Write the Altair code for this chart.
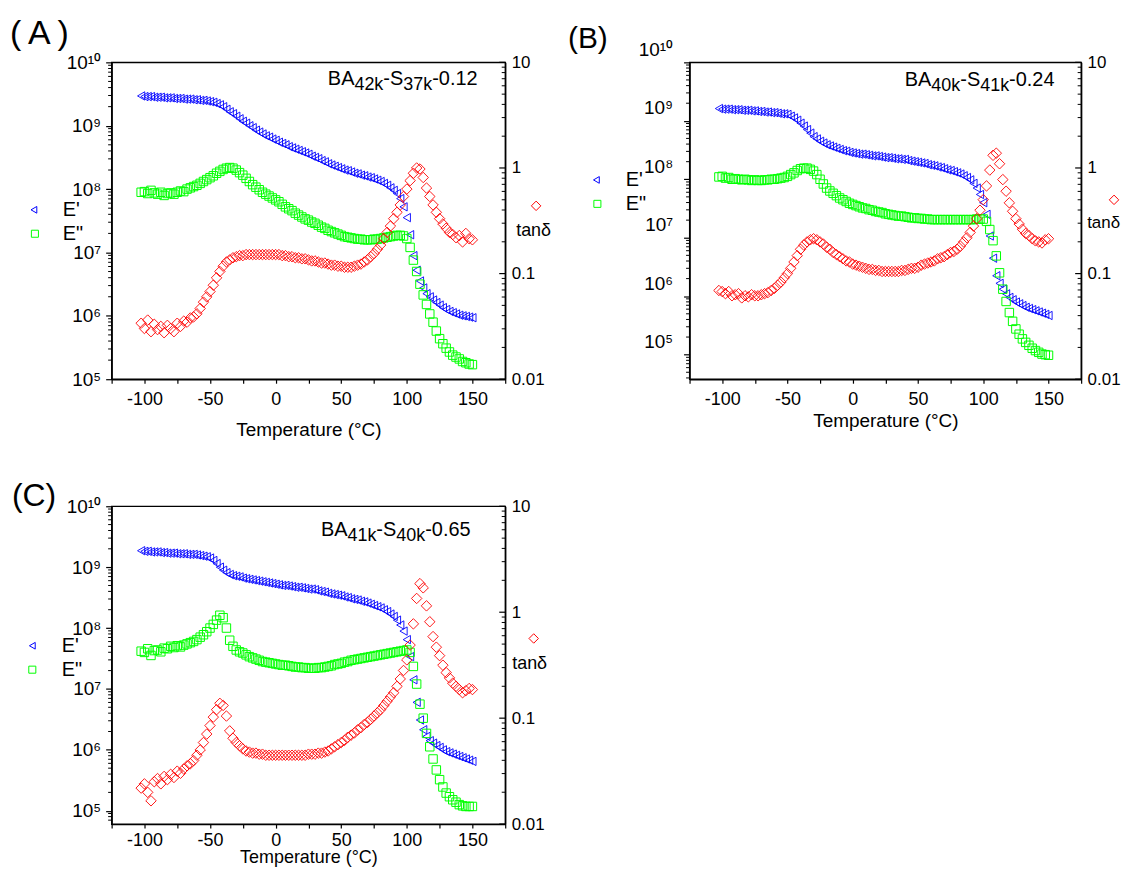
import altair as alt
import pandas as pd

FONT = "Liberation Sans"
BLUE = "#0000ff"
GREEN = "#00ff00"
RED = "#ff0000"

# sampling temperatures (°C), every 2.5 °C from -102.5 to 150
TEMP = [i * 2.5 for i in range(-41, 61)]

# ---------------- Panel A : BA42k-S37k-0.12 (log10 values)
A_logEp = [9.47, 9.46, 9.46, 9.46, 9.45, 9.45, 9.45, 9.44, 9.44, 9.44,
           9.43, 9.43, 9.43, 9.42, 9.42, 9.42, 9.41, 9.41, 9.40, 9.40,
           9.39, 9.38, 9.37, 9.35, 9.33, 9.30, 9.26, 9.22, 9.19, 9.15,
           9.11, 9.07, 9.04, 9.00, 8.97, 8.93, 8.90, 8.87, 8.84, 8.82,
           8.79, 8.77, 8.74, 8.72, 8.70, 8.67, 8.65, 8.63, 8.61, 8.59,
           8.57, 8.55, 8.52, 8.50, 8.48, 8.45, 8.43, 8.40, 8.38, 8.36,
           8.34, 8.32, 8.30, 8.29, 8.27, 8.25, 8.24, 8.22, 8.21, 8.19,
           8.18, 8.16, 8.14, 8.12, 8.09, 8.06, 8.02, 7.98, 7.93, 7.85,
           7.72, 7.55, 7.28, 6.95, 6.72, 6.55, 6.44, 6.35, 6.30, 6.25,
           6.21, 6.17, 6.13, 6.10, 6.07, 6.05, 6.03, 6.01, 6.00, 5.99,
           5.98, 5.97]
A_logEpp = [7.95, 7.96, 7.93, 7.98, 7.94, 7.92, 7.95, 7.90, 7.93, 7.94,
            7.92, 7.95, 7.97, 7.96, 8.00, 8.02, 8.04, 8.06, 8.09, 8.12,
            8.15, 8.18, 8.21, 8.25, 8.28, 8.31, 8.33, 8.34, 8.33, 8.30,
            8.26, 8.22, 8.17, 8.12, 8.07, 8.03, 7.99, 7.95, 7.92, 7.89,
            7.86, 7.83, 7.80, 7.76, 7.72, 7.69, 7.66, 7.62, 7.59, 7.56,
            7.53, 7.51, 7.48, 7.46, 7.43, 7.40, 7.38, 7.35, 7.33, 7.31,
            7.29, 7.27, 7.25, 7.24, 7.23, 7.22, 7.21, 7.21, 7.20, 7.20,
            7.20, 7.21, 7.21, 7.22, 7.23, 7.24, 7.25, 7.26, 7.27, 7.27,
            7.26, 7.22, 7.08, 6.88, 6.70, 6.50, 6.33, 6.18, 6.03, 5.90,
            5.76, 5.64, 5.56, 5.49, 5.43, 5.38, 5.35, 5.32, 5.28, 5.26,
            5.24, 5.23]
A_logTan = [-1.47, -1.52, -1.44, -1.55, -1.48, -1.53, -1.50, -1.56, -1.49, -1.52,
            -1.55, -1.47, -1.50, -1.45, -1.46, -1.42, -1.41, -1.38, -1.33, -1.27,
            -1.22, -1.17, -1.11, -1.04, -0.98, -0.93, -0.89, -0.87, -0.85, -0.84,
            -0.83, -0.83, -0.82, -0.82, -0.82, -0.82, -0.82, -0.82, -0.82, -0.82,
            -0.82, -0.82, -0.82, -0.83, -0.83, -0.84, -0.84, -0.85, -0.85, -0.86,
            -0.86, -0.87, -0.88, -0.88, -0.89, -0.90, -0.90, -0.91, -0.92, -0.92,
            -0.93, -0.93, -0.94, -0.94, -0.94, -0.93, -0.92, -0.91, -0.89, -0.87,
            -0.84, -0.81, -0.77, -0.73, -0.67, -0.61, -0.55, -0.48, -0.42, -0.35,
            -0.27, -0.20, -0.12, -0.05, 0.00, -0.01, -0.09, -0.19, -0.27, -0.35,
            -0.42, -0.48, -0.53, -0.57, -0.61, -0.63, -0.66, -0.64, -0.70, -0.62,
            -0.67, -0.68]

# ---------------- Panel B : BA40k-S41k-0.24
B_logEp = [9.21, 9.20, 9.20, 9.20, 9.19, 9.19, 9.19, 9.18, 9.18, 9.18,
           9.17, 9.17, 9.16, 9.16, 9.15, 9.15, 9.14, 9.14, 9.13, 9.12,
           9.12, 9.11, 9.08, 9.05, 9.01, 8.96, 8.91, 8.85, 8.79, 8.73,
           8.69, 8.65, 8.62, 8.59, 8.57, 8.55, 8.53, 8.51, 8.49, 8.48,
           8.46, 8.45, 8.44, 8.43, 8.43, 8.42, 8.41, 8.40, 8.40, 8.39,
           8.38, 8.37, 8.37, 8.36, 8.35, 8.35, 8.34, 8.34, 8.32, 8.31,
           8.30, 8.29, 8.28, 8.27, 8.25, 8.24, 8.23, 8.21, 8.20, 8.18,
           8.16, 8.15, 8.13, 8.11, 8.09, 8.06, 8.03, 7.99, 7.93, 7.85,
           7.74, 7.60, 7.40, 7.03, 6.65, 6.35, 6.22, 6.12, 6.04, 5.98,
           5.94, 5.90, 5.87, 5.84, 5.81, 5.79, 5.77, 5.75, 5.73, 5.71,
           5.69, 5.67]
B_logEpp = [8.04, 8.05, 8.02, 8.03, 8.00, 8.01, 8.00, 7.99, 8.00, 7.99,
            7.98, 7.99, 7.98, 7.98, 7.99, 7.99, 8.00, 8.00, 8.01, 8.02,
            8.03, 8.05, 8.08, 8.11, 8.15, 8.18, 8.19, 8.19, 8.17, 8.14,
            8.08, 8.00, 7.92, 7.85, 7.80, 7.76, 7.72, 7.68, 7.65, 7.62,
            7.59, 7.57, 7.55, 7.53, 7.51, 7.50, 7.48, 7.47, 7.45, 7.44,
            7.43, 7.41, 7.40, 7.39, 7.38, 7.37, 7.37, 7.36, 7.35, 7.34,
            7.34, 7.33, 7.33, 7.32, 7.32, 7.31, 7.31, 7.31, 7.31, 7.31,
            7.31, 7.31, 7.31, 7.31, 7.31, 7.31, 7.31, 7.31, 7.31, 7.32,
            7.32, 7.32, 7.28, 7.14, 6.95, 6.69, 6.40, 6.12, 5.91, 5.72,
            5.57, 5.44, 5.35, 5.27, 5.21, 5.16, 5.11, 5.07, 5.04, 5.01,
            5.00, 4.99]
B_logTan = [-1.16, -1.17, -1.19, -1.17, -1.21, -1.20, -1.19, -1.23, -1.21, -1.22,
            -1.20, -1.21, -1.21, -1.20, -1.19, -1.18, -1.16, -1.14, -1.11, -1.08,
            -1.04, -1.00, -0.95, -0.89, -0.83, -0.77, -0.73, -0.70, -0.68, -0.67,
            -0.68, -0.70, -0.72, -0.75, -0.77, -0.80, -0.82, -0.84, -0.86, -0.88,
            -0.89, -0.91, -0.92, -0.93, -0.94, -0.95, -0.96, -0.96, -0.97, -0.97,
            -0.98, -0.98, -0.98, -0.98, -0.98, -0.98, -0.97, -0.97, -0.96, -0.95,
            -0.95, -0.94, -0.92, -0.91, -0.90, -0.89, -0.88, -0.86, -0.85, -0.84,
            -0.82, -0.80, -0.79, -0.77, -0.74, -0.70, -0.66, -0.61, -0.55, -0.48,
            -0.40, -0.30, -0.17, -0.02, 0.12, 0.14, 0.04, -0.11, -0.22, -0.33,
            -0.41, -0.48, -0.53, -0.58, -0.62, -0.64, -0.67, -0.69, -0.70, -0.71,
            -0.68, -0.67]

# ---------------- Panel C : BA41k-S40k-0.65
C_logEp = [9.27, 9.26, 9.26, 9.25, 9.25, 9.25, 9.24, 9.24, 9.23, 9.23,
           9.23, 9.22, 9.22, 9.22, 9.21, 9.21, 9.21, 9.20, 9.19, 9.18,
           9.17, 9.15, 9.11, 9.06, 9.00, 8.95, 8.91, 8.88, 8.86, 8.85,
           8.84, 8.82, 8.81, 8.80, 8.79, 8.78, 8.77, 8.76, 8.75, 8.74,
           8.73, 8.72, 8.71, 8.70, 8.70, 8.69, 8.68, 8.67, 8.67, 8.66,
           8.65, 8.64, 8.64, 8.63, 8.61, 8.60, 8.59, 8.57, 8.56, 8.55,
           8.54, 8.53, 8.51, 8.50, 8.48, 8.47, 8.46, 8.44, 8.43, 8.41,
           8.39, 8.37, 8.35, 8.33, 8.30, 8.27, 8.23, 8.19, 8.13, 8.05,
           7.95, 7.81, 7.53, 7.15, 6.78, 6.49, 6.33, 6.22, 6.15, 6.11,
           6.07, 6.04, 6.00, 5.97, 5.95, 5.93, 5.91, 5.89, 5.87, 5.85,
           5.83, 5.81]
C_logEpp = [7.62, 7.60, 7.66, 7.55, 7.63, 7.64, 7.61, 7.67, 7.66, 7.70,
            7.68, 7.71, 7.69, 7.72, 7.74, 7.76, 7.78, 7.81, 7.85, 7.89,
            7.94, 8.00, 8.06, 8.13, 8.21, 8.17, 8.00, 7.80, 7.70, 7.64,
            7.61, 7.59, 7.56, 7.53, 7.51, 7.49, 7.47, 7.45, 7.44, 7.43,
            7.42, 7.41, 7.40, 7.39, 7.39, 7.38, 7.37, 7.36, 7.36, 7.35,
            7.35, 7.34, 7.34, 7.34, 7.35, 7.35, 7.36, 7.37, 7.38, 7.40,
            7.41, 7.42, 7.44, 7.45, 7.47, 7.48, 7.49, 7.50, 7.51, 7.52,
            7.53, 7.54, 7.55, 7.56, 7.57, 7.58, 7.59, 7.60, 7.61, 7.62,
            7.63, 7.64, 7.60, 7.37, 7.08, 6.75, 6.52, 6.27, 6.05, 5.85,
            5.67, 5.51, 5.39, 5.29, 5.23, 5.18, 5.14, 5.10, 5.08, 5.07,
            5.07, 5.07]
C_logTan = [-1.66, -1.62, -1.70, -1.78, -1.60, -1.57, -1.62, -1.55, -1.58, -1.53,
            -1.56, -1.50, -1.52, -1.48, -1.45, -1.43, -1.40, -1.35, -1.30, -1.23,
            -1.15, -1.07, -0.99, -0.92, -0.86, -0.88, -0.98, -1.12, -1.19, -1.23,
            -1.26, -1.29, -1.31, -1.32, -1.33, -1.33, -1.34, -1.34, -1.35, -1.35,
            -1.35, -1.35, -1.35, -1.35, -1.35, -1.35, -1.35, -1.35, -1.35, -1.35,
            -1.35, -1.34, -1.34, -1.34, -1.33, -1.33, -1.32, -1.31, -1.29, -1.27,
            -1.25, -1.23, -1.21, -1.18, -1.16, -1.14, -1.11, -1.09, -1.06, -1.04,
            -1.01, -0.98, -0.95, -0.92, -0.88, -0.84, -0.80, -0.76, -0.70, -0.63,
            -0.55, -0.45, -0.31, -0.11, 0.13, 0.27, 0.23, 0.06, -0.09, -0.23,
            -0.33, -0.41, -0.50, -0.57, -0.62, -0.67, -0.70, -0.73, -0.76, -0.74,
            -0.72, -0.73]

X_TICKS = [-125, -100, -75, -50, -25, 0, 25, 50, 75, 100, 125, 150, 175]
LEFT_MAJOR = [1e5, 1e6, 1e7, 1e8, 1e9, 1e10]
RIGHT_MAJOR = [0.01, 0.1, 1, 10]

SUP_EXPR = ("'10' + ['\u2070','\u00b9','\u00b2','\u00b3','\u2074','\u2075','\u2076',"
            "'\u2077','\u2078','\u2079','\u00b9\u2070'][round(log(datum.value) / LN10)]")
RIGHT_EXPR = ("datum.value >= 5 ? '10' : datum.value >= 0.5 ? '1' : "
              "datum.value >= 0.05 ? '0.1' : '0.01'")

ONE = alt.Data(values=[{"k": 1}])

ADV = {"B": 0.667, "A": 0.667, "S": 0.667, "k": 0.5, "-": 0.333, ".": 0.278,
       "0": 0.556, "1": 0.556, "2": 0.556, "3": 0.556, "4": 0.556, "5": 0.556,
       "6": 0.556, "7": 0.556, "8": 0.556, "9": 0.556}


def df_of(vals):
    return pd.DataFrame({"T": [t for t, _ in zip(TEMP, vals)],
                         "val": [10 ** v for v in vals]})


def df_tan(vals):
    return pd.DataFrame({"T": [t for t, _ in zip(TEMP, vals)],
                         "tan": [10 ** v for v in vals]})


def txt(s, x, y, fs, align="left", baseline="middle"):
    return alt.Chart(ONE).mark_text(text=s, align=align, baseline=baseline, fontSize=fs,
                                    font=FONT, color="black").encode(
        x=alt.value(x), y=alt.value(y))


def sym(shape, color, size, x, y):
    return alt.Chart(ONE).mark_point(shape=shape, filled=False, color=color, size=size,
                                     strokeWidth=1, opacity=1).encode(
        x=alt.value(x), y=alt.value(y))


def ghost(x, y):
    return alt.Chart(ONE).mark_point(shape="circle", filled=True, opacity=0, size=1).encode(
        x=alt.value(x), y=alt.value(y))


def annotation(parts, x0, base):
    out = []
    x = x0
    for s, sub in parts:
        fs = 18 if sub else 20
        out.append(txt(s, x, base + (5 if sub else 0), fs, baseline="alphabetic"))
        x += sum(ADV[c] for c in s) * fs
    return out


def panel(ep, epp, tn, ydom, W, H, lab_off, lab_pad, xlab_pad, title_pad, title_fs, extras):
    xax = alt.Axis(values=X_TICKS, labelExpr="datum.value % 50 === 0 ? '' + datum.value : ''",
                   tickSize=4, labelPadding=xlab_pad, titlePadding=title_pad,
                   title="Temperature (°C)", titleFontSize=title_fs, titleFontWeight="normal",
                   labelFontSize=18, grid=False, labelFlush=False, labelOverlap=False)
    xenc = alt.X("T:Q", scale=alt.Scale(domain=[-125, 175], nice=False, zero=False), axis=xax)

    lax = alt.Axis(orient="left", values=LEFT_MAJOR, labelExpr=SUP_EXPR, tickSize=6,
                   labelPadding=lab_pad, labelOffset=lab_off, labelFontSize=19, title=None,
                   grid=False, labelFlush=False, labelOverlap=False)
    yl = alt.Y("val:Q", scale=alt.Scale(type="log", domain=ydom, nice=False), axis=lax)

    rax = alt.Axis(orient="right", values=RIGHT_MAJOR, labelExpr=RIGHT_EXPR, tickSize=0,
                   labelPadding=6, labelFontSize=17, title=None, grid=False,
                   labelFlush=False, labelOverlap=False)
    yr = alt.Y("tan:Q", scale=alt.Scale(type="log", domain=[0.01, 10], nice=False), axis=rax)

    lminor = pd.DataFrame({"val": [m * 10 ** e for e in range(4, 10) for m in range(2, 10)
                                   if ydom[0] <= m * 10 ** e <= ydom[1]]})
    rminor = pd.DataFrame({"tan": [m * 10.0 ** e for e in (-2, -1, 0) for m in range(2, 10)]})
    rmajor = pd.DataFrame({"tan": RIGHT_MAJOR})

    p_ep = alt.Chart(df_of(ep)).mark_point(shape="triangle-left", filled=False, color=BLUE,
                                          size=70, strokeWidth=0.9, opacity=1).encode(x=xenc, y=yl)
    p_epp = alt.Chart(df_of(epp)).mark_point(shape="square", filled=False, color=GREEN,
                                            size=72, strokeWidth=1, opacity=1).encode(x=xenc, y=yl)
    t_l = alt.Chart(lminor).mark_rule(color="black", strokeWidth=1).encode(
        y=yl, x=alt.value(-3.5), x2=alt.value(0))
    left = alt.layer(p_ep, p_epp, t_l)

    p_tan = alt.Chart(df_tan(tn)).mark_point(shape="diamond", filled=False, color=RED,
                                            size=110, strokeWidth=0.9, opacity=1).encode(x=xenc, y=yr)
    t_rmaj = alt.Chart(rmajor).mark_rule(color="black", strokeWidth=1.2).encode(
        y=yr, x=alt.value(W - 6), x2=alt.value(W))
    t_rmin = alt.Chart(rminor).mark_rule(color="black", strokeWidth=1).encode(
        y=yr, x=alt.value(W - 3.5), x2=alt.value(W))
    right = alt.layer(p_tan, t_rmaj, t_rmin)

    return alt.layer(left, right, *extras).resolve_scale(y="independent").properties(
        width=W, height=H)


extrasA = ([ghost(-102.5, -51.5), ghost(450, 318 + 70),
            txt("(\u2009A\u2009)", -102, -18, 34, baseline="alphabetic"),
            sym("triangle-left", BLUE, 45, -78, 148), txt("E'", -49, 148, 20),
            sym("square", GREEN, 50, -77, 172), txt('E"', -49, 172, 20),
            sym("diamond", RED, 90, 426, 144), txt("tan\u03b4", 406, 169, 18)]
           + annotation([("BA", 0), ("42k", 1), ("-S", 0), ("37k", 1), ("-0.12", 0)], 217, 23))

extrasB = ([ghost(-124.5, -51.5), ghost(0, 318 + 70),
            txt("(B)", -122, -14, 30, baseline="alphabetic"),
            sym("triangle-left", BLUE, 45, -93.5, 118), txt("E'", -64, 118, 20),
            sym("square", GREEN, 50, -92.5, 142), txt('E"', -64, 142, 20),
            sym("diamond", RED, 90, 426, 138), txt("tan\u03b4", 399, 161, 17)]
           + annotation([("BA", 0), ("40k", 1), ("-S", 0), ("41k", 1), ("-0.24", 0)], 216, 24))

extrasC = ([ghost(-102.5, -51.5),
            txt("(C)", -100, 0, 32, baseline="alphabetic"),
            sym("triangle-left", BLUE, 45, -79.6, 140), txt("E'", -50, 140, 20),
            sym("square", GREEN, 50, -79.6, 164), txt('E"', -50, 164, 20),
            sym("diamond", RED, 90, 423.6, 132.7), txt("tan\u03b4", 402, 158, 18)]
           + annotation([("BA", 0), ("41k", 1), ("-S", 0), ("40k", 1), ("-0.65", 0)], 210, 30))

panelA = panel(A_logEp, A_logEpp, A_logTan, [1e5, 1e10], 395, 318, 0, 5, 7, 12, 19, extrasA)
panelB = panel(B_logEp, B_logEpp, B_logTan, [10 ** 4.58, 1e10], 393, 318, -13, 11, 7, 3, 19, extrasB)
panelC = panel(C_logEp, C_logEpp, C_logTan, [10 ** 4.78, 1e10], 395, 319, 0, 5, 3, 0, 18, extrasC)

chart = alt.vconcat(alt.hconcat(panelA, panelB, spacing=2), panelC,
                    spacing=2.5, padding=0).configure(
    font=FONT, background="white"
).configure_view(
    stroke="black", strokeWidth=1.4
).configure_axis(
    domainColor="black", domainWidth=1.4, tickColor="black", tickWidth=1.2,
    labelColor="black", titleColor="black", labelFont=FONT, titleFont=FONT
)

chart.save("out.html", embed_options={"renderer": "svg", "actions": False})
